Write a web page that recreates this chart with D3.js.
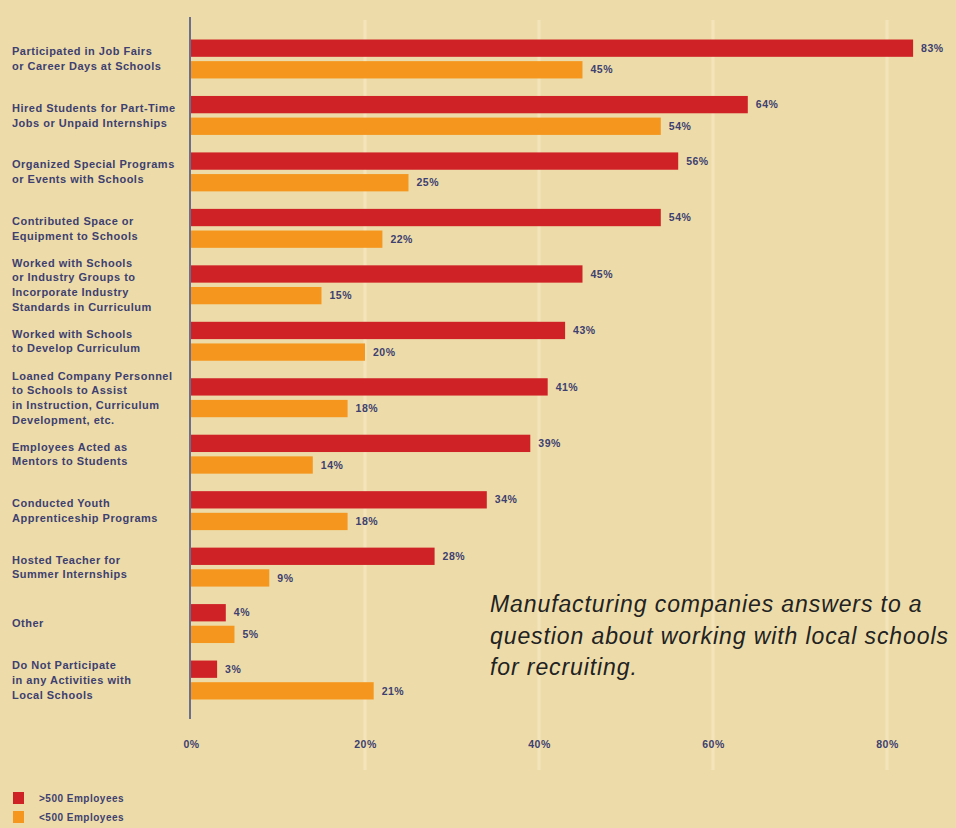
<!DOCTYPE html>
<html>
<head>
<meta charset="utf-8">
<script src="https://cdn.jsdelivr.net/npm/d3@7"></script>
<style>
  html, body { margin: 0; padding: 0; background: #eddca9; }
  svg { display: block; }
</style>
</head>
<body>
<svg id="chart" width="956" height="828"></svg>
<script>
const categories = [
  "Participated in Job Fairs\nor Career Days at Schools",
  "Hired Students for Part-Time\nJobs or Unpaid Internships",
  "Organized Special Programs\nor Events with Schools",
  "Contributed Space or\nEquipment to Schools",
  "Worked with Schools\nor Industry Groups to\nIncorporate Industry\nStandards in Curriculum",
  "Worked with Schools\nto Develop Curriculum",
  "Loaned Company Personnel\nto Schools to Assist\nin Instruction, Curriculum\nDevelopment, etc.",
  "Employees Acted as\nMentors to Students",
  "Conducted Youth\nApprenticeship Programs",
  "Hosted Teacher for\nSummer Internships",
  "Other",
  "Do Not Participate\nin any Activities with\nLocal Schools"
];
const seriesNames = [">500 Employees", "<500 Employees"];
const large = [83, 64, 56, 54, 45, 43, 41, 39, 34, 28, 4, 3];
const small = [45, 54, 25, 22, 15, 20, 18, 14, 18, 9, 5, 21];
const tickValues = [0, 20, 40, 60, 80];
const annotation = [
  "Manufacturing companies answers to a",
  "question about working with local schools",
  "for recruiting."
];

const colors = ["#cf2227", "#f5971f"];
const textColor = "#3d4070";
const font = "Liberation Sans, Arial, sans-serif";
const svg = d3.select("#chart");

svg.append("rect").attr("width", 956).attr("height", 828).attr("fill", "#eddca9");

const x = d3.scaleLinear().domain([0, 80]).range([191, 887]);
const y = d3.scaleBand().domain(d3.range(categories.length)).range([39.5, 699.5]).paddingInner(0.31).paddingOuter(0);
const ys = d3.scaleBand().domain(d3.range(2)).range([0, y.bandwidth()]).paddingInner(0.2);

// gridlines
svg.append("g").selectAll("line").data(tickValues.filter(d => d > 0)).join("line")
  .attr("x1", d => x(d)).attr("x2", d => x(d))
  .attr("y1", 20).attr("y2", 770)
  .attr("stroke", "#f3e4bb").attr("stroke-width", 3);

// bars
const data = categories.map((c, i) => ({ i, values: [large[i], small[i]] }));
const groups = svg.append("g").selectAll("g").data(data).join("g")
  .attr("transform", d => `translate(0,${y(d.i)})`);

groups.selectAll("rect").data(d => d.values.map((v, k) => ({ v, k }))).join("rect")
  .attr("x", x(0))
  .attr("y", d => ys(d.k))
  .attr("width", d => x(d.v) - x(0))
  .attr("height", ys.bandwidth())
  .attr("fill", d => colors[d.k]);

groups.selectAll("text.val").data(d => d.values.map((v, k) => ({ v, k }))).join("text")
  .attr("class", "val")
  .attr("x", d => x(d.v) + 8)
  .attr("y", d => ys(d.k) + ys.bandwidth() / 2)
  .attr("dy", "0.35em")
  .attr("font-family", font)
  .attr("font-weight", "bold")
  .attr("font-size", 10.5)
  .attr("letter-spacing", 0.5)
  .attr("fill", textColor)
  .text(d => d.v + "%");

// category labels
const lineH = 14.7;
svg.append("g").selectAll("text").data(data).join("text")
  .attr("font-family", font)
  .attr("font-weight", "bold")
  .attr("font-size", 11)
  .attr("letter-spacing", 0.5)
  .attr("fill", textColor)
  .each(function(d) {
    const lines = categories[d.i].split("\n");
    const cy = y(d.i) + y.bandwidth() / 2;
    const t = d3.select(this);
    lines.forEach((ln, j) => {
      t.append("tspan")
        .attr("x", 12)
        .attr("y", cy + (j - (lines.length - 1) / 2) * lineH)
        .attr("dy", "0.35em")
        .text(ln);
    });
  });

// axis
const axis = d3.axisBottom(x).tickValues(tickValues).tickSize(0).tickFormat(d => d + "%");
const ax = svg.append("g").attr("transform", "translate(0,738)").call(axis);
ax.select(".domain").remove();
ax.selectAll("text")
  .attr("font-family", font)
  .attr("font-weight", "bold")
  .attr("font-size", 10.5)
  .attr("letter-spacing", 0.5)
  .attr("fill", textColor);

svg.append("line")
  .attr("x1", 190).attr("x2", 190)
  .attr("y1", 17).attr("y2", 719)
  .attr("stroke", "#6c6f8c").attr("stroke-width", 2);

// legend
const lg = svg.append("g").selectAll("g").data(seriesNames).join("g")
  .attr("transform", (d, i) => `translate(13,${792 + i * 19})`);
lg.append("rect").attr("width", 11).attr("height", 12).attr("fill", (d, i) => colors[i]);
lg.append("text")
  .attr("x", 26).attr("y", 6).attr("dy", "0.35em")
  .attr("font-family", font)
  .attr("font-weight", "bold")
  .attr("font-size", 10)
  .attr("letter-spacing", 0.5)
  .attr("fill", textColor)
  .text(d => d);

// annotation
svg.append("text")
  .attr("font-family", font)
  .attr("font-style", "italic")
  .attr("font-size", 23)
  .attr("letter-spacing", 0.9)
  .attr("fill", "#222222")
  .selectAll("tspan").data(annotation).join("tspan")
  .attr("x", 490)
  .attr("y", (d, i) => 612 + i * 31.5)
  .text(d => d);
</script>
</body>
</html>
